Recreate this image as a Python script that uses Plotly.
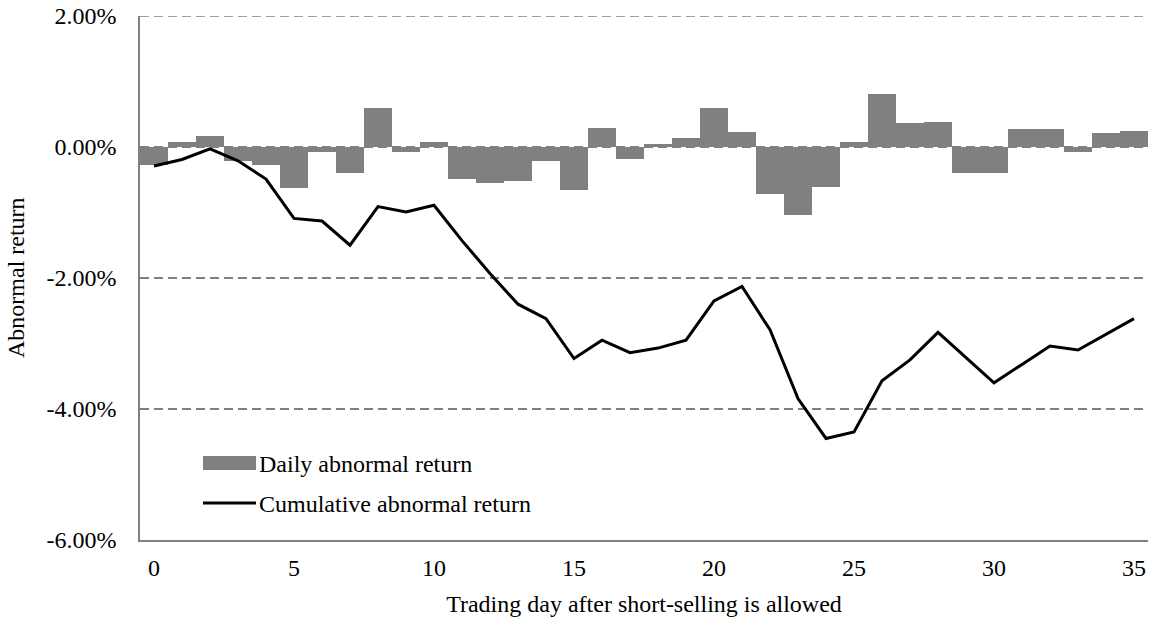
import plotly.graph_objects as go

days = list(range(36))
daily_ar = [-0.28, 0.08, 0.17, -0.22, -0.28, -0.62, -0.08, -0.40, 0.60, -0.07,
            0.08, -0.49, -0.55, -0.52, -0.22, -0.65, 0.29, -0.19, 0.05, 0.14,
            0.59, 0.23, -0.71, -1.04, -0.61, 0.08, 0.81, 0.36, 0.38, -0.40,
            -0.40, 0.28, 0.28, -0.07, 0.21, 0.25]
cum_ar = [-0.29, -0.19, -0.03, -0.21, -0.49, -1.09, -1.13, -1.50, -0.91, -0.99,
          -0.89, -1.43, -1.93, -2.40, -2.62, -3.23, -2.95, -3.14, -3.07, -2.95,
          -2.35, -2.13, -2.79, -3.84, -4.45, -4.35, -3.57, -3.25, -2.83, -3.21,
          -3.60, -3.32, -3.04, -3.10, -2.86, -2.62]
y_tick_vals = [2, 0, -2, -4, -6]
y_tick_labels = ["2.00%", "0.00%", "-2.00%", "-4.00%", "-6.00%"]
x_tick_vals = [0, 5, 10, 15, 20, 25, 30, 35]
series_names = ["Daily abnormal return", "Cumulative abnormal return"]
x_title = "Trading day after short-selling is allowed"
y_title = "Abnormal return"

FONT = "Liberation Serif, Times New Roman, serif"
GRID = "#808080"
BAR = "#808080"
FS = 24

fig = go.Figure()
fig.add_trace(go.Bar(x=days, y=daily_ar, name=series_names[0],
                     marker=dict(color=BAR, line=dict(width=0)),
                     width=1.0, showlegend=False))
fig.add_trace(go.Scatter(x=days, y=cum_ar, name=series_names[1], mode="lines",
                         line=dict(color="black", width=3), showlegend=False))

# top gridline at the 2.00% tick (edge of range)
fig.add_shape(type="line", xref="paper", yref="y", x0=0, x1=1,
              y0=y_tick_vals[0], y1=y_tick_vals[0], layer="below",
              line=dict(color=GRID, width=1.5, dash="9px,5px"))

# pixel -> paper helpers (plot area: x 140..1148, y 16..540 px)
def px_x(p):
    return (p - 140) / 1008.0

def px_y(p):
    return (540 - p) / 524.0

# custom legend
fig.add_shape(type="rect", xref="paper", yref="paper",
              x0=px_x(203), x1=px_x(256), y0=px_y(470), y1=px_y(456),
              fillcolor=BAR, line=dict(width=0))
fig.add_shape(type="line", xref="paper", yref="paper",
              x0=px_x(203), x1=px_x(256), y0=px_y(503), y1=px_y(503),
              line=dict(color="black", width=3))
fig.add_annotation(xref="paper", yref="paper", x=px_x(257), y=px_y(464),
                   text=series_names[0], showarrow=False, xanchor="left",
                   yanchor="middle", font=dict(family=FONT, size=FS, color="black"))
fig.add_annotation(xref="paper", yref="paper", x=px_x(257), y=px_y(504),
                   text=series_names[1], showarrow=False, xanchor="left",
                   yanchor="middle", font=dict(family=FONT, size=FS, color="black"))

# y-axis title
fig.add_annotation(xref="paper", yref="paper", x=px_x(16), y=0.5,
                   text=y_title, textangle=-90, showarrow=False,
                   xanchor="center", yanchor="middle",
                   font=dict(family=FONT, size=FS, color="black"))

fig.update_layout(
    width=1154, height=624,
    margin=dict(l=140, r=6, t=16, b=84, autoexpand=False),
    paper_bgcolor="white", plot_bgcolor="white",
    bargap=0,
    font=dict(family=FONT, size=FS, color="black"),
    xaxis=dict(range=[-0.5, 35.5], tickvals=x_tick_vals, showgrid=False,
               zeroline=False, showline=True, linecolor=GRID, linewidth=1.5,
               ticks="", ticklabelstandoff=5, automargin=False,
               tickfont=dict(family=FONT, size=FS, color="black"),
               title=dict(text=x_title,
                          font=dict(family=FONT, size=FS, color="black"),
                          standoff=16)),
    yaxis=dict(range=[-6, 2], tickvals=y_tick_vals, ticktext=y_tick_labels,
               showgrid=True, gridcolor=GRID, gridwidth=1.5, griddash="9px,5px",
               zeroline=False, showline=True, linecolor=GRID, linewidth=1.5,
               ticks="", ticklabelstandoff=17, automargin=False,
               tickfont=dict(family=FONT, size=FS, color="black")),
)

fig.write_html("out.html", config={"displayModeBar": False},
               post_script="document.body.style.margin='0';document.body.style.overflow='hidden';")
